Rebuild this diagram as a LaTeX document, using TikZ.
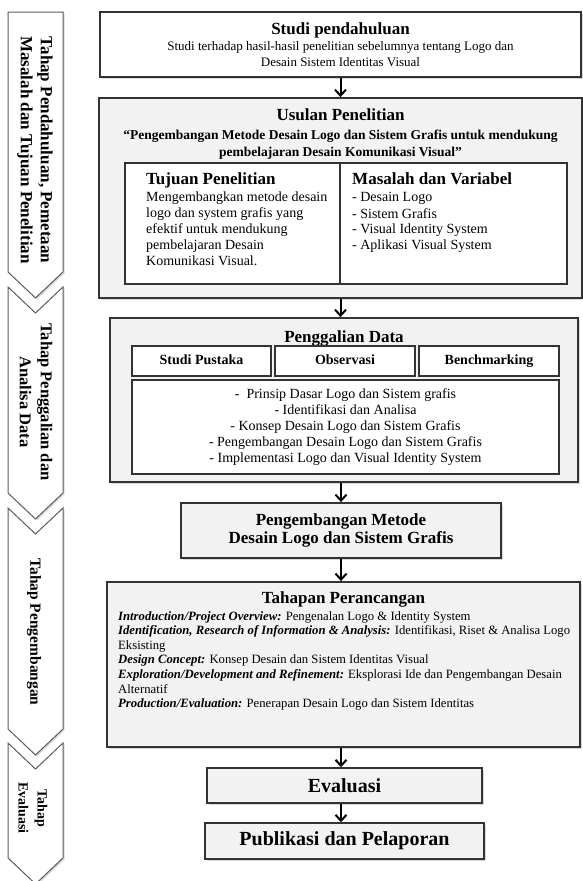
\documentclass[tikz,border=0pt]{standalone}
\usepackage{fontspec}
\setmainfont{Liberation Serif}
\usetikzlibrary{positioning, shadows, arrows.meta}

\definecolor{kotakabu}{HTML}{F2F2F2}
\definecolor{garis}{HTML}{333333}
\newcommand\ukuran[2]{\fontsize{#1}{#2}\selectfont}

\tikzset{
  bayang/.style={drop shadow={shadow xshift=1.5pt, shadow yshift=-1.5pt, opacity=0.3}},
  kotak/.style={draw=garis, line width=1.8pt, fill=kotakabu, inner sep=0pt, bayang},
  kotakputih/.style={draw=garis, line width=1.3pt, fill=white, inner sep=0pt},
  teks/.style={inner sep=0pt, align=left},
  panah/.style={line width=2pt, -{Straight Barb[length=6pt, width=11pt]}},
  tahap/.style={draw=garis!80, line width=1pt, fill=white, bayang},
}

\begin{document}
\begin{tikzpicture}[x=1pt, y=-1pt]
\useasboundingbox (0,0) rectangle (583,881);

% panah tahap di kiri
\foreach \atas/\bawah/\takik in {12/272/0, 287/493/26, 508/729/26, 743/858/26}
  \draw[tahap] (8,\atas) -- (35.5,\atas+\takik) -- (63,\atas) -- (63,\bawah)
    -- (35.5,\bawah+26) -- (8,\bawah) -- cycle;

\node[rotate=-90, align=center, font=\bfseries\ukuran{17}{20}] (tahapsatu) at (35,150)
  {Tahap Pendahuluan, Pemetaan\\Masalah dan Tujuan Penelitian};
\node[rotate=-90, align=center, font=\bfseries\ukuran{16.5}{21}] (tahapdua) at (36,402)
  {Tahap Penggalian dan\\Analisa Data};
\node[rotate=-90, align=center, font=\bfseries\ukuran{15.5}{20}] (tahaptiga) at (34,632)
  {Tahap Pengembangan};
\node[rotate=-90, align=center, font=\bfseries\ukuran{14}{19}] (tahapempat) at (33,808)
  {Tahap\\Evaluasi};

% studi pendahuluan
\node[kotakputih, line width=1.8pt, bayang, minimum width=481, minimum height=65,
  align=center, font=\ukuran{13}{16}] (studi) at (340.5,44.5)
  {{\bfseries\ukuran{17}{20}Studi pendahuluan}\\Studi terhadap hasil-hasil penelitian sebelumnya tentang Logo dan\\Desain Sistem Identitas Visual};

% usulan penelitian
\node[kotak, minimum width=483, minimum height=200] (usulan) at (340.5,198) {};
\node[align=center, inner sep=0pt, font=\bfseries\ukuran{13.5}{17}] (usulanjudul) at (340.5,134)
  {{\ukuran{17}{20}Usulan Penelitian}\\[1.5pt]“Pengembangan Metode Desain Logo dan Sistem Grafis untuk mendukung\\pembelajaran Desain Komunikasi Visual"};
\node[kotakputih, minimum width=215, minimum height=121] (tujuan) at (232.5,223.5) {};
\node[kotakputih, minimum width=227, minimum height=121] (masalah) at (453.5,223.5) {};
\node[teks, anchor=north west, font=\ukuran{14}{16}] (tujuanisi) at (146,173)
  {{\bfseries\ukuran{17}{20}Tujuan Penelitian}\\[1pt]Mengembangkan metode desain\\logo dan system grafis yang\\efektif untuk mendukung\\pembelajaran Desain\\Komunikasi Visual.};
\node[teks, anchor=north west, font=\ukuran{14}{16}] (masalahisi) at (352,173)
  {{\bfseries\ukuran{17}{20}Masalah dan Variabel}\\[1pt]- Desain Logo\\- Sistem Grafis\\- Visual Identity System\\- Aplikasi Visual System};

% penggalian data
\node[kotak, minimum width=468, minimum height=164] (gali) at (344,400) {};
\node[inner sep=0pt, font=\bfseries\ukuran{17}{20}] (galijudul) at (344,338.5) {Penggalian Data};
\tikzset{subkotak/.style={kotakputih, minimum width=140, minimum height=30,
  text height=10pt, text depth=3pt, font=\bfseries\ukuran{14}{16}}}
\node[subkotak, minimum width=139] (pustaka) at (201.5,361) {Studi Pustaka};
\node[subkotak] (observasi) at (345,361) {Observasi};
\node[subkotak] (benchmark) at (489,361) {Benchmarking};
\node[kotakputih, minimum width=427, minimum height=94, align=center, font=\ukuran{14}{16}] (rincian) at (345.5,427)
  {-\ \ Prinsip Dasar Logo dan Sistem grafis\\- Identifikasi dan Analisa\\- Konsep Desain Logo dan Sistem Grafis\\- Pengembangan Desain Logo dan Sistem Grafis\\- Implementasi Logo dan Visual Identity System};

% pengembangan metode
\node[kotak, minimum width=320, minimum height=55, align=center, font=\bfseries\ukuran{17}{17.5}] (metode) at (341,530.5)
  {Pengembangan Metode\\Desain Logo dan Sistem Grafis};

% tahapan perancangan
\node[kotak, minimum width=473, minimum height=165] (tahapan) at (343.5,664.5) {};
\node[inner sep=0pt, font=\bfseries\ukuran{17}{20}] (tahapanjudul) at (343.5,599.5) {Tahapan Perancangan};
\node[teks, anchor=north west, font=\ukuran{12.7}{14.6}] (tahapanisi) at (118,611)
  {\textbf{\textit{Introduction/Project Overview:}} Pengenalan Logo \& Identity System\\
   \textbf{\textit{Identification, Research of Information \& Analysis:}} Identifikasi, Riset \& Analisa Logo\\
   Eksisting\\
   \textbf{\textit{Design Concept:}} Konsep Desain dan Sistem Identitas Visual\\
   \textbf{\textit{Exploration/Development and Refinement:}} Eksplorasi Ide dan Pengembangan Desain\\
   Alternatif\\
   \textbf{\textit{Production/Evaluation:}} Penerapan Desain Logo dan Sistem Identitas};

% evaluasi dan publikasi
\node[kotak, line width=1.5pt, minimum width=275, minimum height=35, font=\bfseries\ukuran{20}{22}] (evaluasi) at (344.5,785.5) {Evaluasi};
\node[kotak, line width=1.5pt, minimum width=279, minimum height=36, font=\bfseries\ukuran{20}{22}] (publikasi) at (344.5,841) {Publikasi dan Pelaporan};

% alur
\draw[panah] (studi.south) -- (studi.south |- usulan.north);
\draw[panah] (usulan.south) -- (usulan.south |- gali.north);
\draw[panah] (metode.north |- gali.south) -- (metode.north);
\draw[panah] (metode.south) -- (metode.south |- tahapan.north);
\draw[panah] (tahapan.south -| metode.south) -- (evaluasi.north -| metode.south);
\draw[panah] (evaluasi.south -| metode.south) -- (publikasi.north -| metode.south);
\end{tikzpicture}
\end{document}
